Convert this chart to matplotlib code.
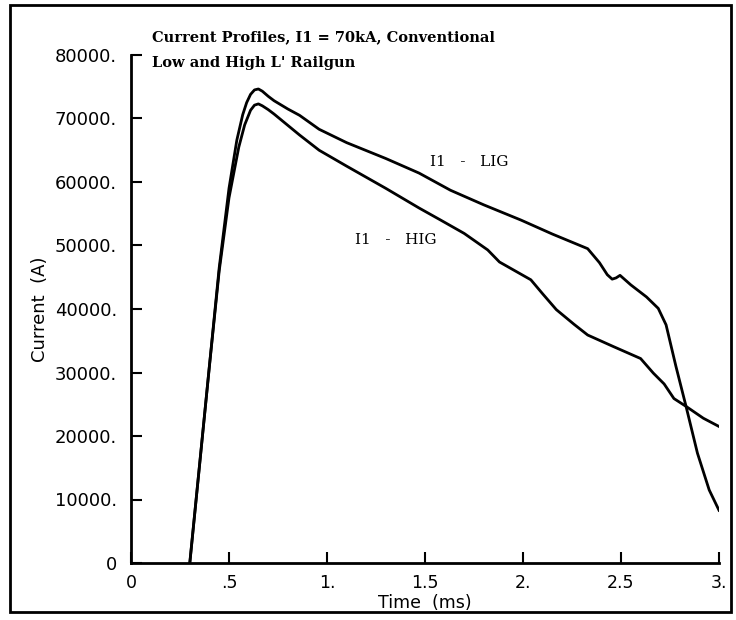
import matplotlib
matplotlib.use("Agg")
import matplotlib.pyplot as plt
from matplotlib.patches import Rectangle

# time (ms) and current (A)
t_lig = [0.30, 0.35, 0.40, 0.45, 0.50, 0.54, 0.57, 0.59, 0.61, 0.63, 0.65, 0.67, 0.70,
         0.73, 0.80, 0.86, 0.96, 1.10, 1.30, 1.47, 1.63, 1.80, 1.99, 2.15, 2.33,
         2.39, 2.43, 2.455, 2.475, 2.495, 2.55, 2.63, 2.69, 2.73, 2.78, 2.83, 2.89,
         2.95, 3.00]
i_lig = [0, 15500, 31000, 46500, 59000, 66600, 70600, 72500, 73800, 74500, 74650, 74300, 73500,
         72800, 71500, 70500, 68300, 66200, 63700, 61400, 58700, 56400, 54000, 51800, 49500,
         47300, 45400, 44700, 44900, 45300, 43800, 41900, 40100, 37500, 31000, 24900, 17300,
         11500, 8300]

t_hig = [0.30, 0.35, 0.40, 0.45, 0.50, 0.55, 0.58, 0.61, 0.63, 0.65, 0.67, 0.70, 0.73,
         0.86, 0.96, 1.10, 1.30, 1.47, 1.58, 1.70, 1.82, 1.88, 1.96, 2.04, 2.10,
         2.17, 2.26, 2.33, 2.46, 2.60, 2.665, 2.72, 2.77, 2.835, 2.92, 3.00]
i_hig = [0, 15500, 31000, 46000, 57500, 65500, 69000, 71300, 72100, 72300, 72000, 71400, 70700,
         67400, 65000, 62500, 59000, 55900, 54000, 51900, 49300, 47400, 46000, 44600, 42400,
         39900, 37600, 35900, 34100, 32200, 29900, 28200, 25900, 24600, 22800, 21500]

xticks = [0, 0.5, 1, 1.5, 2, 2.5, 3]
xlabels = ["0", ".5", "1.", "1.5", "2.", "2.5", "3."]
yticks = [0, 10000, 20000, 30000, 40000, 50000, 60000, 70000, 80000]
ylabels = ["0"] + ["%d." % v for v in yticks[1:]]

fig = plt.figure(figsize=(7.36, 6.2), dpi=100)
ax = fig.add_axes([131/736, 1 - 563/620, 588/736, 508/620])

ax.plot(t_lig, i_lig, color="black", lw=2.0, solid_joinstyle="round")
ax.plot(t_hig, i_hig, color="black", lw=2.0, solid_joinstyle="round")

ax.set_xlim(0, 3)
ax.set_ylim(0, 80000)
ax.set_xticks(xticks)
ax.set_xticklabels(xlabels)
ax.set_yticks(yticks)
ax.set_yticklabels(ylabels)
ax.spines["top"].set_visible(False)
ax.spines["right"].set_visible(False)
ax.spines["left"].set_linewidth(2)
ax.spines["bottom"].set_linewidth(2)
ax.tick_params(direction="in", length=8, width=1.5, labelsize=13, pad=10)
ax.tick_params(axis="x", labelsize=12.5, pad=8)

ax.set_xlabel("Time  (ms)", fontsize=12.5, labelpad=1)
ax.set_ylabel("Current  (A)", fontsize=13, labelpad=4)

ax.text(1.526, 63100, "I1   -   LIG", family="DejaVu Serif", fontsize=11, va="center")
ax.text(1.143, 50900, "I1   -   HIG", family="DejaVu Serif", fontsize=11, va="center")

fig.text(152/736, 1 - 37/620, "Current Profiles, I1 = 70kA, Conventional",
         family="DejaVu Serif", weight="bold", fontsize=10.5, va="center")
fig.text(152/736, 1 - 63/620, "Low and High L' Railgun",
         family="DejaVu Serif", weight="bold", fontsize=10.5, va="center")

# outer frame round the whole plot
fig.patches.append(Rectangle((10/736, 1 - 612/620), 721/736, 607/620,
                             transform=fig.transFigure, fill=False,
                             edgecolor="black", lw=2))

fig.savefig("out.png", dpi=100)
